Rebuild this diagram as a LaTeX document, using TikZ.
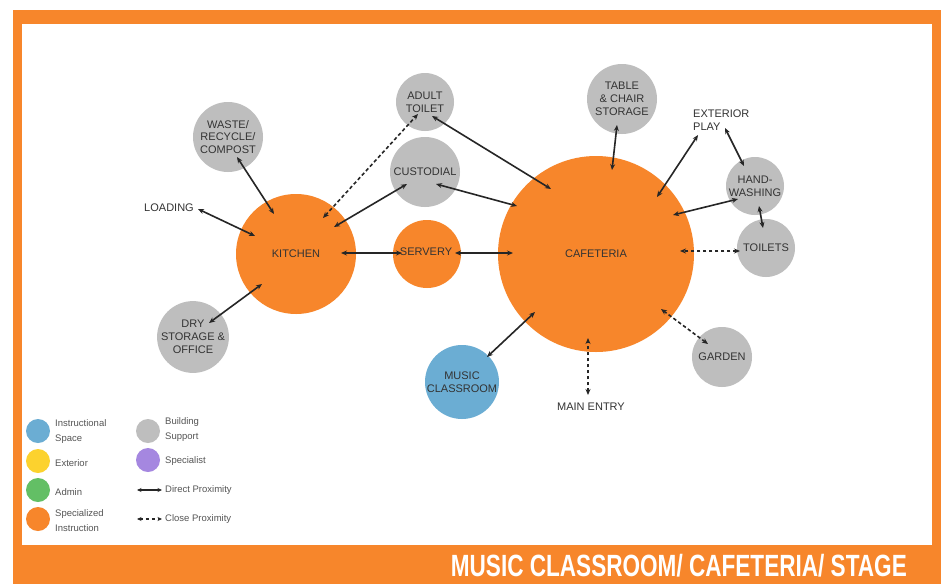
\documentclass[tikz,border=0pt]{standalone}
\usepackage{fontspec}
\setmainfont{Liberation Sans}
\usetikzlibrary{arrows.meta,calc}
\definecolor{org}{HTML}{F7862B}
\definecolor{gry}{HTML}{BEBEBE}
\definecolor{blu}{HTML}{6BADD3}
\definecolor{yel}{HTML}{FCD22E}
\definecolor{grn}{HTML}{63BF65}
\definecolor{pur}{HTML}{A587E0}
\definecolor{txt}{HTML}{333333}
\definecolor{ltx}{HTML}{555555}
\tikzset{
  bub/.style={circle, inner sep=0pt, minimum size=#1, align=center, text=txt,
     font=\fontsize{11}{12.8}\selectfont},
  lbl/.style={text=txt, align=center, inner sep=0pt, font=\fontsize{11}{12.8}\selectfont},
  arr/.style={{Stealth[length=6pt,width=5pt]}-{Stealth[length=6pt,width=5pt]}, line width=1.6pt, draw=black!85},
  dsh/.style={arr, dash pattern=on 3.5pt off 2.5pt},
  leg/.style={circle, inner sep=0pt, minimum size=24pt},
  legt/.style={anchor=west, text=ltx, align=left, inner sep=0pt, font=\fontsize{9.5}{15}\selectfont},
  larr/.style={{Stealth[length=4.5pt,width=4pt]}-{Stealth[length=4.5pt,width=4pt]}, line width=1.2pt, draw=black!85},
}
\begin{document}
\begin{tikzpicture}[x=1pt,y=-1pt]
\useasboundingbox (0,0) rectangle (942,584);
\fill[white] (0,0) rectangle (942,584);
\fill[org] (13,10) rectangle (941,584);
\fill[white] (21.5,24) rectangle (932,545);
\node[anchor=east, text=white, inner sep=0pt, font=\fontsize{30.7}{31}\selectfont\bfseries] (title) at (907,566)
  {\scalebox{0.735}[1]{MUSIC CLASSROOM/ CAFETERIA/ STAGE}};

% bubbles
\node[bub=120pt, fill=org] (K) at (296,254) {KITCHEN};
\node[bub=68pt, fill=org, text depth=0pt] (S) at (427,254) {};
\node[lbl] (St) at (426,252) {SERVERY};
\node[bub=196pt, fill=org] (C) at (596,254) {CAFETERIA};
\node[bub=74pt, fill=blu] (M) at (462,382) {MUSIC\\CLASSROOM};
\node[bub=70pt, fill=gry] (W) at (228,137) {WASTE/\\RECYCLE/\\COMPOST};
\node[bub=58pt, fill=gry] (A) at (425,102) {ADULT\\TOILET};
\node[bub=70pt, fill=gry] (U) at (425,172) {CUSTODIAL};
\node[bub=70pt, fill=gry] (D) at (193,337) {DRY\\STORAGE \&\\OFFICE};
\node[bub=70pt, fill=gry] (T) at (622,99) {TABLE\\\& CHAIR\\STORAGE};
\node[bub=58pt, fill=gry] (H) at (755,186) {HAND-\\WASHING};
\node[bub=58pt, fill=gry] (O) at (766,248) {TOILETS};
\node[bub=60pt, fill=gry] (G) at (722,357) {GARDEN};
\node[lbl] (L) at (169,208) {LOADING};
\node[lbl, align=left, anchor=west] (E) at (693,120) {EXTERIOR\\PLAY};
\node[lbl] (N) at (591,407) {MAIN ENTRY};

% connectors
\draw[arr] ($(L)+(29,1)$) -- ($(K)+(-41,-18)$);
\draw[arr] ($(W)+(9,20)$) -- ($(K)+(-22,-40)$);
\draw[arr] ($(D)+(16,-14)$) -- ($(K)+(-34,30)$);
\draw[arr] ($(K)+(45,-1)$) -- ($(S)+(-25,-1)$);
\draw[dsh] ($(K)+(27,-36)$) -- ($(A)+(-7,12)$);
\draw[arr] ($(K)+(38,-27)$) -- ($(U)+(-18,12)$);
\draw[arr] ($(U)+(11,12)$) -- ($(C)+(-79,-48)$);
\draw[arr] ($(A)+(7,14)$) -- ($(C)+(-45,-65)$);
\draw[arr] ($(S)+(28,-1)$) -- ($(C)+(-83,-1)$);
\draw[arr] ($(T)+(-5,26)$) -- ($(C)+(16,-84)$);
\draw[arr] ($(E.west)+(5,15)$) -- ($(C)+(61,-57)$);
\draw[arr] ($(E.west)+(32,8)$) -- ($(H)+(-11,-20)$);
\draw[arr] ($(H)+(-17,13)$) -- ($(C)+(77,-39)$);
\draw[arr] ($(H)+(4,20)$) -- ($(O)+(-3,-20)$);
\draw[dsh] ($(O)+(-26,3)$) -- ($(C)+(84,-3)$);
\draw[dsh] ($(G)+(-14,-13)$) -- ($(C)+(65,55)$);
\draw[dsh] ($(N)+(-3,-12)$) -- ($(C)+(-8,84)$);
\draw[arr] ($(M)+(25,-25)$) -- ($(C)+(-61,58)$);

% legend
\node[leg, fill=blu] (l1) at (38,431) {};
\node[leg, fill=yel] (l2) at (38,461) {};
\node[leg, fill=grn] (l3) at (38,490) {};
\node[leg, fill=org] (l4) at (38,519) {};
\node[leg, fill=gry] (l5) at (148,431) {};
\node[leg, fill=pur] (l6) at (148,460) {};
\node[legt] (t1) at (55,432) {Instructional\\Space};
\node[legt] (t2) at (55,463) {Exterior};
\node[legt] (t3) at (55,492) {Admin};
\node[legt] (t4) at (55,521) {Specialized\\Instruction};
\node[legt] (t5) at (165,430) {Building\\Support};
\node[legt] (t6) at (165,461) {Specialist};
\node[legt] (t7) at (165,490) {Direct Proximity};
\node[legt] (t8) at (165,519) {Close Proximity};
\coordinate (a1) at (137,490);
\coordinate (b1) at (162,490);
\coordinate (a2) at (137,519);
\coordinate (b2) at (162,519);
\draw[larr] (a1) -- (b1);
\draw[larr, dash pattern=on 3pt off 3pt] (a2) -- (b2);
\end{tikzpicture}
\end{document}
